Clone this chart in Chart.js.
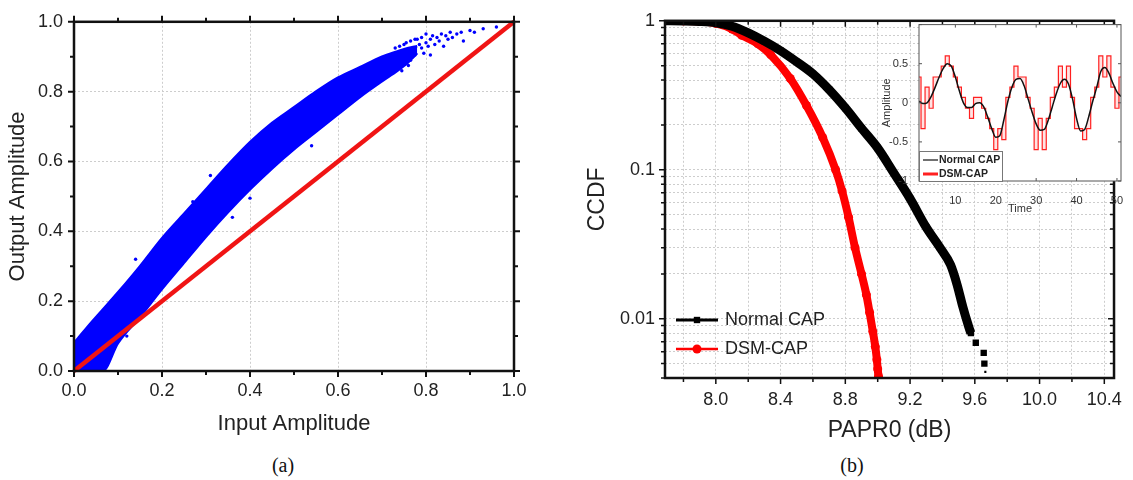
<!DOCTYPE html>
<html>
<head>
<meta charset="utf-8">
<script src="https://cdn.jsdelivr.net/npm/chart.js@4.4.0/dist/chart.umd.min.js"></script>
<style>
  body { margin: 0; width: 1133px; height: 480px; background: #fff; position: relative; overflow: hidden; }
  canvas { position: absolute; }
  #amam { left: 0; top: 0; width: 560px; height: 445px; }
  #ccdf { left: 580px; top: 0; width: 553px; height: 445px; }
  #inset { left: 880px; top: 15px; width: 253px; height: 210px; }
  .cap { position: absolute; top: 454px; font: 20px "Liberation Serif", "Times New Roman", serif; color: #111; transform: translateX(-50%); }
</style>
</head>
<body>
<canvas id="amam" width="560" height="445"></canvas>
<canvas id="ccdf" width="553" height="445"></canvas>
<canvas id="inset" width="253" height="210"></canvas>
<div class="cap" style="left:283px">(a)</div>
<div class="cap" style="left:852px">(b)</div>
<script>
// (a) AM/AM: dense scatter band drawn as its upper/lower envelope, plus sparse points
const bandX     = [0, 0.03, 0.065, 0.1, 0.15, 0.2, 0.25, 0.3, 0.35, 0.4, 0.45, 0.5, 0.55, 0.6, 0.65, 0.7, 0.735, 0.76, 0.78];
const bandUpper = [0.08, 0.125, 0.175, 0.225, 0.30, 0.38, 0.45, 0.52, 0.59, 0.655, 0.71, 0.755, 0.80, 0.84, 0.87, 0.9, 0.915, 0.925, 0.93];
const bandLower = [0, 0, 0, 0.08, 0.155, 0.235, 0.31, 0.385, 0.455, 0.52, 0.58, 0.635, 0.685, 0.735, 0.785, 0.83, 0.86, 0.885, 0.91];
const sparseX = [0.72, 0.73, 0.74, 0.745, 0.75, 0.755, 0.76, 0.765, 0.77, 0.775, 0.78, 0.785, 0.79, 0.79, 0.795, 0.80, 0.80, 0.805, 0.81, 0.81, 0.815, 0.82, 0.825, 0.83, 0.835, 0.84, 0.845, 0.85, 0.855, 0.86, 0.87, 0.88, 0.885, 0.90, 0.91, 0.93, 0.96, 0.765, 0.775, 0.27, 0.36, 0.40, 0.54, 0.14, 0.31, 0.12];
const sparseY = [0.87, 0.925, 0.93, 0.86, 0.935, 0.94, 0.875, 0.945, 0.90, 0.95, 0.95, 0.935, 0.925, 0.955, 0.91, 0.94, 0.965, 0.93, 0.95, 0.905, 0.96, 0.935, 0.955, 0.945, 0.965, 0.93, 0.96, 0.95, 0.97, 0.955, 0.965, 0.97, 0.945, 0.975, 0.97, 0.98, 0.985, 0.89, 0.905, 0.485, 0.44, 0.495, 0.645, 0.32, 0.56, 0.1];
const idealX = [0, 1];
const idealY = [0, 1];
const ampTicks  = [0, 0.1, 0.2, 0.3, 0.4, 0.5, 0.6, 0.7, 0.8, 0.9, 1.0];
const ampLabels = ['0.0', '', '0.2', '', '0.4', '', '0.6', '', '0.8', '', '1.0'];

// (b) CCDF of PAPR0
const normalDb   = [7.68, 7.8, 7.9, 8.0, 8.1, 8.2, 8.3, 8.4, 8.5, 8.6, 8.7, 8.8, 8.9, 9.0, 9.1, 9.2, 9.3, 9.385, 9.45, 9.49, 9.526, 9.556, 9.576, 9.606, 9.655, 9.659, 9.665];
const normalCcdf = [1.0, 0.998, 0.99, 0.97, 0.92, 0.83, 0.73, 0.63, 0.53, 0.44, 0.345, 0.26, 0.19, 0.14, 0.095, 0.064, 0.041, 0.030, 0.023, 0.017, 0.012, 0.0093, 0.0080, 0.0069, 0.0059, 0.0050, 0.0044];
const dsmDb   = [7.68, 7.8, 7.9, 8.0, 8.1, 8.16, 8.26, 8.34, 8.46, 8.56, 8.66, 8.74, 8.78, 8.82, 8.86, 8.9, 8.93, 8.95, 8.97, 8.985, 8.995, 9.0, 9.005];
const dsmCcdf = [1.0, 0.998, 0.99, 0.96, 0.88, 0.80, 0.70, 0.59, 0.41, 0.27, 0.165, 0.10, 0.072, 0.048, 0.030, 0.020, 0.0145, 0.0110, 0.0082, 0.0065, 0.0053, 0.0046, 0.0041];
const paprTicks  = [7.8, 8.0, 8.2, 8.4, 8.6, 8.8, 9.0, 9.2, 9.4, 9.6, 9.8, 10.0, 10.2, 10.4];
const paprLabels = ['', '8.0', '', '8.4', '', '8.8', '', '9.2', '', '9.6', '', '10.0', '', '10.4'];
const ccdfTicks  = [0.004, 0.005, 0.006, 0.007, 0.008, 0.009, 0.01, 0.02, 0.03, 0.04, 0.05, 0.06, 0.07, 0.08, 0.09, 0.1, 0.2, 0.3, 0.4, 0.5, 0.6, 0.7, 0.8, 0.9, 1];
const ccdfLabels = ['', '', '', '', '', '', '0.01', '', '', '', '', '', '', '', '', '0.1', '', '', '', '', '', '', '', '', '1'];

// inset: time-domain waveform
const timeIdx   = [1, 2, 3, 4, 5, 6, 7, 8, 9, 10, 11, 12, 13, 14, 15, 16, 17, 18, 19, 20, 21, 22, 23, 24, 25, 26, 27, 28, 29, 30, 31, 32, 33, 34, 35, 36, 37, 38, 39, 40, 41, 42, 43, 44, 45, 46, 47, 48, 49, 50, 51];
const normalAmp = [0.02, -0.01, 0.0, 0.08, 0.2, 0.33, 0.44, 0.5, 0.47, 0.33, 0.15, 0.0, -0.06, -0.06, -0.01, 0.0, -0.05, -0.18, -0.33, -0.44, -0.42, -0.22, 0.02, 0.2, 0.3, 0.31, 0.22, 0.05, -0.12, -0.27, -0.35, -0.34, -0.22, -0.05, 0.12, 0.25, 0.3, 0.24, 0.05, -0.2, -0.36, -0.34, -0.18, 0.02, 0.2, 0.4, 0.45, 0.38, 0.25, 0.14, 0.08];
const dsmAmp    = [0.33, -0.33, 0.2, -0.07, 0.33, 0.33, 0.47, 0.6, 0.47, 0.33, 0.2, 0.07, -0.07, -0.2, 0.07, 0.07, -0.07, -0.2, -0.33, -0.6, -0.33, -0.47, 0.07, 0.2, 0.47, 0.33, 0.33, 0.07, -0.07, -0.6, -0.2, -0.6, -0.2, 0.07, 0.2, 0.47, 0.2, 0.47, 0.07, -0.33, -0.33, -0.47, -0.33, 0.07, 0.2, 0.6, 0.33, 0.6, 0.2, -0.07, 0.33];
const ampInsetTicks = [-1, -0.5, 0, 0.5, 1];
const ampInsetLabels = ['-1', '-0.5', '0', '0.5', ''];
const timeTicks = [10, 20, 30, 40, 50];

Chart.defaults.font.family = '"Liberation Sans", Arial, sans-serif';
Chart.defaults.color = '#222';

const pts = (xs, ys) => xs.map((x, i) => ({ x, y: ys[i] }));
const setTicks = (vals) => (scale) => { scale.ticks = vals.map(v => ({ value: v })); };

// box frame with tick marks on all four sides (dir: 1 = outward, -1 = inward)
const framePlugin = {
  id: 'frame',
  beforeDraw(chart, args, o) {
    if (!o.fill) return;
    const { ctx, chartArea: a } = chart;
    ctx.save();
    ctx.fillStyle = o.fill;
    ctx.fillRect(a.left, a.top, a.right - a.left, a.bottom - a.top);
    ctx.restore();
  },
  afterDraw(chart, args, o) {
    const { ctx, chartArea: a, scales } = chart;
    ctx.save();
    ctx.strokeStyle = o.color;
    ctx.lineWidth = o.tickWidth;
    ctx.beginPath();
    scales.x.ticks.forEach(t => {
      const p = scales.x.getPixelForValue(t.value);
      const len = t.label ? o.major : o.minor;
      ctx.moveTo(p, a.bottom); ctx.lineTo(p, a.bottom + o.dir.bottom * len);
      ctx.moveTo(p, a.top); ctx.lineTo(p, a.top - o.dir.top * len);
    });
    scales.y.ticks.forEach(t => {
      const p = scales.y.getPixelForValue(t.value);
      const len = t.label ? o.major : o.minor;
      ctx.moveTo(a.left, p); ctx.lineTo(a.left - o.dir.left * len, p);
      ctx.moveTo(a.right, p); ctx.lineTo(a.right + o.dir.right * len, p);
    });
    ctx.stroke();
    ctx.lineWidth = o.width;
    ctx.strokeRect(a.left, a.top, a.right - a.left, a.bottom - a.top);
    ctx.restore();
  }
};

// legend drawn inside the plot area, anchored to its bottom-left corner
const cornerLegend = {
  id: 'cornerLegend',
  afterDraw(chart, args, o) {
    const { ctx, chartArea: a } = chart;
    const sets = chart.data.datasets.filter(d => d.label);
    ctx.save();
    if (o.box) {
      ctx.fillStyle = '#fff';
      ctx.strokeStyle = o.boxColor;
      ctx.lineWidth = 1;
      ctx.fillRect(a.left + o.box[0], a.bottom + o.box[1], o.box[2], o.box[3]);
      ctx.strokeRect(a.left + o.box[0] + 0.5, a.bottom + o.box[1] + 0.5, o.box[2], o.box[3]);
    }
    ctx.font = o.font;
    ctx.textBaseline = 'middle';
    sets.forEach((d, i) => {
      const y = a.bottom + o.y + i * o.gap;
      const x0 = a.left + o.x;
      ctx.strokeStyle = d.borderColor;
      ctx.lineWidth = o.lineWidths[i];
      ctx.beginPath(); ctx.moveTo(x0, y); ctx.lineTo(x0 + o.len, y); ctx.stroke();
      if (o.markers) {
        ctx.fillStyle = d.borderColor;
        Chart.helpers.drawPoint(ctx, { pointStyle: d.pointStyle, radius: o.markerRadius, borderWidth: 0, rotation: 0 }, x0 + o.len / 2, y);
      }
      ctx.fillStyle = o.color;
      ctx.fillText(d.label, x0 + o.len + o.textGap, y);
    });
    ctx.restore();
  }
};

const gridDash = { display: false, dash: [2, 2] };

// ---------- (a) ----------
new Chart(document.getElementById('amam'), {
  type: 'line',
  data: {
    datasets: [
      { data: pts(idealX, idealY), borderColor: '#f01414', borderWidth: 4.5, pointRadius: 0, order: 0, clip: 3 },
      { data: pts(bandX, bandUpper), borderColor: '#0000ff', backgroundColor: '#0000ff', borderWidth: 2.5, pointRadius: 0, fill: '+1', order: 2, cubicInterpolationMode: 'monotone' },
      { data: pts(bandX, bandLower), borderColor: '#0000ff', borderWidth: 2.5, pointRadius: 0, fill: false, order: 2, cubicInterpolationMode: 'monotone' },
      { data: pts(sparseX, sparseY), showLine: false, pointRadius: 1.7, pointBorderWidth: 0, pointBackgroundColor: '#0000ff', order: 1 }
    ]
  },
  options: {
    responsive: false, animation: false, devicePixelRatio: 1,
    layout: { padding: { top: 17, right: 46, left: 0, bottom: 0 } },
    plugins: {
      legend: { display: false }, tooltip: { enabled: false },
      frame: { color: '#111', width: 2.5, tickWidth: 2, major: 6, minor: 4, dir: { bottom: 1, top: 1, left: 1, right: 1 } }
    },
    scales: {
      x: {
        type: 'linear', min: 0, max: 1,
        afterBuildTicks: setTicks(ampTicks),
        afterFit: s => { s.height = 74; },
        ticks: { callback: (v, i) => ampLabels[i], autoSkip: false, maxRotation: 0, padding: 9, font: { size: 18 }, color: '#222' },
        grid: { color: c => (c.tick && c.tick.label) ? '#cdcdcd' : 'rgba(0,0,0,0)', drawTicks: false },
        border: gridDash,
        title: { display: true, text: 'Input Amplitude', font: { size: 22, lineHeight: 1 }, padding: { top: 0, bottom: 10 }, color: '#222' }
      },
      y: {
        type: 'linear', min: 0, max: 1,
        afterBuildTicks: setTicks(ampTicks),
        afterFit: s => { s.width = 74; },
        ticks: { callback: (v, i) => ampLabels[i], autoSkip: false, padding: 11, font: { size: 18 }, color: '#222' },
        grid: { color: c => (c.tick && c.tick.label) ? '#cdcdcd' : 'rgba(0,0,0,0)', drawTicks: false },
        border: gridDash,
        title: { display: true, text: 'Output Amplitude', font: { size: 22, lineHeight: 1 }, padding: { top: 7, bottom: 0 }, color: '#222' }
      }
    }
  },
  plugins: [framePlugin]
});

// ---------- (b) ----------
new Chart(document.getElementById('ccdf'), {
  type: 'line',
  data: {
    datasets: [
      {
        label: 'Normal CAP', data: pts(normalDb, normalCcdf),
        borderColor: '#000', borderWidth: 9, pointStyle: 'rect', cubicInterpolationMode: 'monotone',
        pointRadius: c => c.dataIndex === normalDb.length - 1 ? 1.5 : 4.5,
        pointBackgroundColor: '#000', pointBorderWidth: 0, clip: 0,
        segment: { borderColor: c => c.p1.parsed.y < 0.0075 ? 'rgba(0,0,0,0)' : undefined }
      },
      {
        label: 'DSM-CAP', data: pts(dsmDb, dsmCcdf),
        borderColor: '#ff0000', borderWidth: 8, pointStyle: 'circle', pointRadius: 4.5, cubicInterpolationMode: 'monotone',
        pointBackgroundColor: '#ff0000', pointBorderWidth: 0, clip: 0
      }
    ]
  },
  options: {
    responsive: false, animation: false, devicePixelRatio: 1,
    layout: { padding: { top: 19, right: 8, left: 0, bottom: 0 } },
    plugins: {
      legend: { display: false }, tooltip: { enabled: false },
      frame: { color: '#111', width: 2.5, tickWidth: 1.5, major: 6, minor: 4, dir: { bottom: 1, top: -1, left: 1, right: -1 } },
      cornerLegend: { x: 11, y: -58, gap: 29, len: 42, textGap: 7, font: '18px "Liberation Sans", Arial, sans-serif', color: '#222', lineWidths: [3, 2.5], markers: true, markerRadius: 4.5 }
    },
    scales: {
      x: {
        type: 'linear', min: 7.686, max: 10.46,
        afterBuildTicks: setTicks(paprTicks),
        afterFit: s => { s.height = 67; },
        ticks: { callback: (v, i) => paprLabels[i], autoSkip: false, maxRotation: 0, padding: 11, font: { size: 18 }, color: '#222' },
        grid: { color: '#cdcdcd', drawTicks: false },
        border: gridDash,
        title: { display: true, text: 'PAPR0 (dB)', font: { size: 23, lineHeight: 1 }, padding: { top: 0, bottom: 3 }, color: '#222' }
      },
      y: {
        type: 'logarithmic', min: 0.004, max: 1,
        afterBuildTicks: setTicks(ccdfTicks),
        afterFit: s => { s.width = 85; },
        ticks: { callback: (v, i) => ccdfLabels[i], autoSkip: false, padding: 10, font: { size: 18 }, color: '#222' },
        grid: { color: '#cdcdcd', drawTicks: false },
        border: gridDash,
        title: { display: true, text: 'CCDF', font: { size: 23, lineHeight: 1 }, padding: { top: 6, bottom: 0 }, color: '#222' }
      }
    }
  },
  plugins: [framePlugin, cornerLegend]
});

// ---------- inset ----------
new Chart(document.getElementById('inset'), {
  type: 'line',
  data: {
    datasets: [
      { label: 'Normal CAP', data: pts(timeIdx, normalAmp), borderColor: '#111', borderWidth: 1.5, pointRadius: 0, cubicInterpolationMode: 'monotone' },
      {
        label: 'DSM-CAP', data: pts(timeIdx, dsmAmp), borderColor: '#ff2020', borderWidth: 1.2, pointRadius: 0,
        stepped: 'middle', fill: { target: 0, above: 'rgba(255,60,60,0.14)', below: 'rgba(255,60,60,0.14)' }
      }
    ]
  },
  options: {
    responsive: false, animation: false, devicePixelRatio: 1,
    layout: { padding: { top: 9, right: 12, left: 0, bottom: 0 } },
    plugins: {
      legend: { display: false }, tooltip: { enabled: false },
      frame: { fill: '#fff', color: '#555', width: 1, tickWidth: 1, major: 3, minor: 3, dir: { bottom: -1, top: -1, left: -1, right: -1 } },
      cornerLegend: { box: [0, -30, 83, 30], boxColor: '#777', x: 4, y: -21, gap: 14, len: 15, textGap: 1, font: 'bold 10.5px "Liberation Sans", Arial, sans-serif', color: '#222', lineWidths: [1.2, 3], markers: false }
    },
    scales: {
      x: {
        type: 'linear', min: 1, max: 51,
        afterBuildTicks: setTicks(timeTicks),
        afterFit: s => { s.height = 44; },
        ticks: { autoSkip: false, maxRotation: 0, padding: 5, font: { size: 11 }, color: '#333' },
        grid: { display: false },
        border: { display: false },
        title: { display: true, text: 'Time', font: { size: 11, lineHeight: 1 }, padding: { top: 0, bottom: 11 }, color: '#333' }
      },
      y: {
        type: 'linear', min: -1, max: 1,
        afterBuildTicks: setTicks(ampInsetTicks),
        afterFit: s => { s.width = 39; },
        ticks: { callback: (v, i) => ampInsetLabels[i], autoSkip: false, padding: 3, font: { size: 11 }, color: '#333' },
        grid: { display: false },
        border: { display: false },
        title: { display: true, text: 'Amplitude', font: { size: 11, lineHeight: 1 }, padding: { top: 1, bottom: 0 }, color: '#333' }
      }
    }
  },
  plugins: [framePlugin, cornerLegend]
});
</script>
</body>
</html>
